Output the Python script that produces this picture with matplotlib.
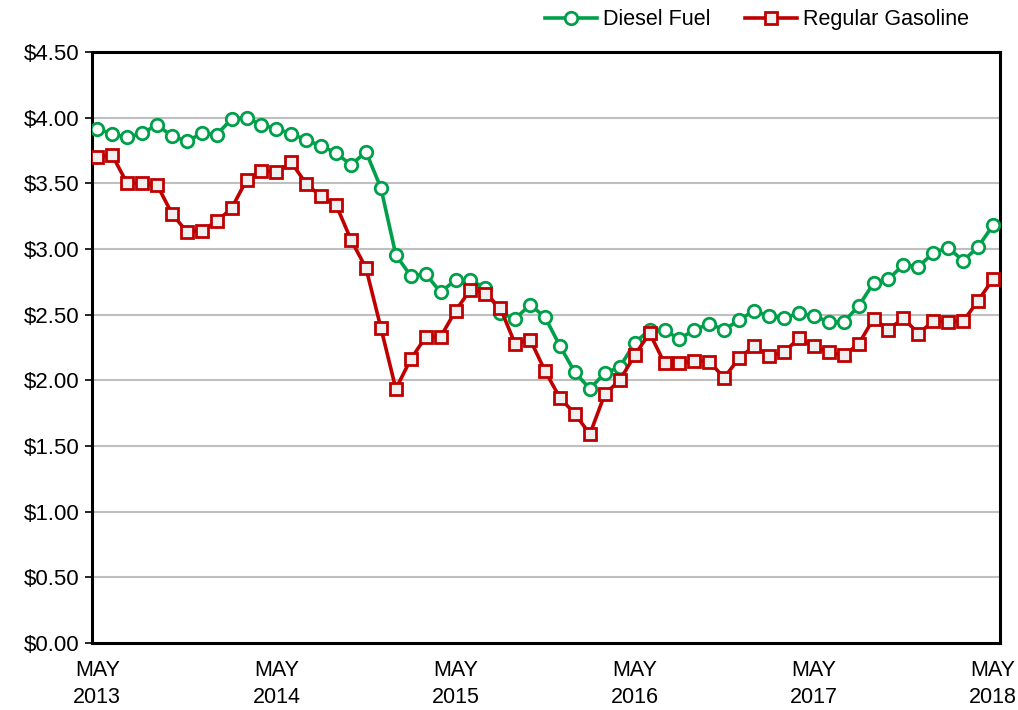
import matplotlib
matplotlib.use("Agg")
import matplotlib.pyplot as plt

# monthly averages, May 2013 .. May 2018
diesel = [3.915, 3.877, 3.85, 3.88, 3.945, 3.86, 3.82, 3.88, 3.87, 3.99,
          4.00, 3.945, 3.915, 3.877, 3.83, 3.785, 3.73, 3.64, 3.74, 3.465,
          2.955, 2.795, 2.81, 2.67, 2.765, 2.765, 2.70, 2.51, 2.47, 2.575,
          2.48, 2.26, 2.06, 1.935, 2.056, 2.10, 2.285, 2.385, 2.38, 2.315,
          2.385, 2.43, 2.385, 2.46, 2.53, 2.49, 2.475, 2.51, 2.49, 2.445,
          2.445, 2.565, 2.74, 2.77, 2.88, 2.865, 2.97, 3.01, 2.91, 3.015,
          3.18]
gasoline = [3.70, 3.715, 3.50, 3.50, 3.49, 3.27, 3.13, 3.14, 3.21, 3.31,
            3.525, 3.595, 3.585, 3.66, 3.495, 3.40, 3.335, 3.07, 2.855, 2.40,
            1.935, 2.16, 2.33, 2.33, 2.53, 2.69, 2.66, 2.55, 2.275, 2.31,
            2.07, 1.865, 1.745, 1.59, 1.895, 2.00, 2.19, 2.36, 2.13, 2.13,
            2.15, 2.14, 2.02, 2.17, 2.26, 2.185, 2.215, 2.32, 2.26, 2.215,
            2.19, 2.275, 2.47, 2.385, 2.475, 2.355, 2.45, 2.445, 2.45, 2.605,
            2.77]
tick_labels = ["MAY\n2013", "MAY\n2014", "MAY\n2015", "MAY\n2016", "MAY\n2017", "MAY\n2018"]
y_ticks = [0, 0.5, 1.0, 1.5, 2.0, 2.5, 3.0, 3.5, 4.0, 4.5]

plt.rcParams["font.family"] = ["Liberation Sans", "DejaVu Sans"]

fig = plt.figure(figsize=(10.18, 7.1), dpi=100)
ax = fig.add_axes([0.0904, 0.0944, 0.8916, 0.8324])

months = list(range(len(diesel)))
ax.plot(months, diesel, color="#00a04b", linewidth=2.6, marker="o",
        markersize=9, markerfacecolor="white", markeredgecolor="#00a04b",
        markeredgewidth=2.0, label="Diesel Fuel", zorder=3)
ax.plot(months, gasoline, color="#c00000", linewidth=2.6, marker="s",
        markersize=9, markerfacecolor="#f0f0f0", markeredgecolor="#c00000",
        markeredgewidth=2.0, label="Regular Gasoline", zorder=3)

ax.set_xlim(-0.35, 60.45)
ax.set_ylim(0, 4.5)
ax.set_yticks(y_ticks)
ax.set_yticklabels([f"${v:.2f}" for v in y_ticks], fontsize=16)
ax.set_xticks(range(0, 61, 12))
ax.set_xticklabels(tick_labels, fontsize=15.5, linespacing=1.4)
ax.tick_params(axis="x", length=0, pad=12)
ax.tick_params(axis="y", length=5, width=1.2, pad=4)

ax.grid(axis="y", color="#bfbfbf", linewidth=1.5)
ax.set_axisbelow(True)
for s in ax.spines.values():
    s.set_linewidth(2.2)
    s.set_color("black")

ax.legend(loc="lower right", bbox_to_anchor=(0.99, 1.0), ncol=2, frameon=False,
          fontsize=15.5, handlelength=2.4, handletextpad=0.3, columnspacing=1.6,
          borderaxespad=0.6)

fig.savefig("out.png", dpi=100)
